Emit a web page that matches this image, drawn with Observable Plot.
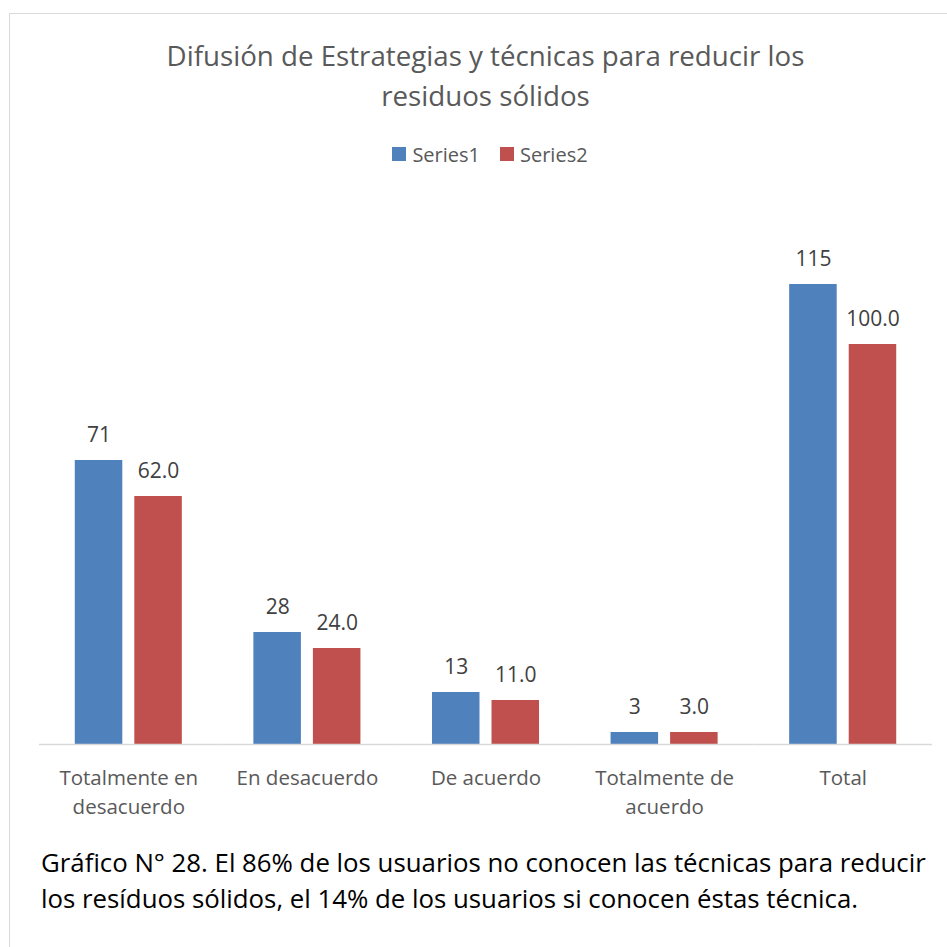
<!DOCTYPE html>
<html>
<head>
<meta charset="utf-8">
<script src="https://cdn.jsdelivr.net/npm/d3@7"></script>
<script src="https://cdn.jsdelivr.net/npm/@observablehq/plot@0.6"></script>
<style>
  html, body { margin: 0; padding: 0; background: #fff; }
  body { width: 947px; height: 947px; overflow: hidden; position: relative; font-family: 'Open Sans', sans-serif; }
  #frame { position: absolute; left: 9px; top: 13px; width: 960px; height: 960px; border-left: 1px solid #d9d9d9; border-top: 1px solid #d9d9d9; box-sizing: border-box; }
  #title { position: absolute; left: 0; top: 35px; width: 971px; text-align: center; font-size: 27.7px; line-height: 40px; color: #595959; }
  #legend { position: absolute; left: 0; top: 144px; width: 980px; height: 20px; display: flex; justify-content: center; align-items: center; font-size: 20px; color: #595959; }
  #legend .item { display: flex; align-items: center; margin: 0 10px; }
  #legend .sw { width: 14px; height: 14px; margin-right: 6px; }
  #chart { position: absolute; left: 0; top: 170px; }
  #caption { position: absolute; left: 41px; top: 844px; font-size: 25.8px; line-height: 36px; color: #000; white-space: nowrap; }
</style>
</head>
<body>
<div id="frame"></div>
<div id="title">Difusión de Estrategias y técnicas para reducir los<br>residuos sólidos</div>
<div id="legend"></div>
<div id="chart"></div>
<div id="caption">Gráfico N° 28. El 86% de los usuarios no conocen las técnicas para reducir<br>los resíduos sólidos, el 14% de los usuarios si conocen éstas técnica.</div>
<script>
const categories = ["Totalmente en desacuerdo", "En desacuerdo", "De acuerdo", "Totalmente de acuerdo", "Total"];
const categoryLabels = ["Totalmente en\ndesacuerdo", "En desacuerdo", "De acuerdo", "Totalmente de\nacuerdo", "Total"];
const seriesNames = ["Series1", "Series2"];
const series1 = [71, 28, 13, 3, 115];
const series2 = [62.0, 24.0, 11.0, 3.0, 100.0];
const seriesColors = ["#4f81bd", "#c0504d"];

const rows = [];
categories.forEach((c, i) => {
  rows.push({category: c, series: seriesNames[0], value: series1[i], label: String(series1[i])});
  rows.push({category: c, series: seriesNames[1], value: series2[i], label: series2[i].toFixed(1)});
});

const legend = document.getElementById("legend");
seriesNames.forEach((s, i) => {
  const item = document.createElement("div");
  item.className = "item";
  const sw = document.createElement("div");
  sw.className = "sw";
  sw.style.background = seriesColors[i];
  const t = document.createElement("span");
  t.textContent = s;
  item.appendChild(sw);
  item.appendChild(t);
  legend.appendChild(item);
});

const chart = Plot.plot({
  width: 947,
  height: 660,
  marginTop: 14,
  marginBottom: 86,
  marginLeft: 39,
  marginRight: 15,
  style: {fontFamily: "'Open Sans', sans-serif", background: "transparent", overflow: "visible"},
  fx: {domain: categories, padding: 0, round: false, label: null},
  x: {domain: seriesNames, axis: null, paddingInner: 0.2017, paddingOuter: 0.601, round: false},
  y: {domain: [0, 140], axis: null},
  color: {domain: seriesNames, range: seriesColors},
  marks: [
    Plot.barY(rows, {fx: "category", x: "series", y: "value", fill: "series"}),
    Plot.ruleY([0], {stroke: "#d9d9d9", strokeWidth: 1.5}),
    Plot.text(rows, {fx: "category", x: "series", y: "value", text: "label", dy: -25, fill: "#404040", fontSize: 21}),
    Plot.axisFx({anchor: "bottom", tickSize: 0, tickPadding: 20, label: null,
      tickFormat: d => categoryLabels[categories.indexOf(d)],
      fontSize: 20.5, lineHeight: 1.41, fill: "#595959"})
  ]
});
document.getElementById("chart").appendChild(chart);
</script>
</body>
</html>
